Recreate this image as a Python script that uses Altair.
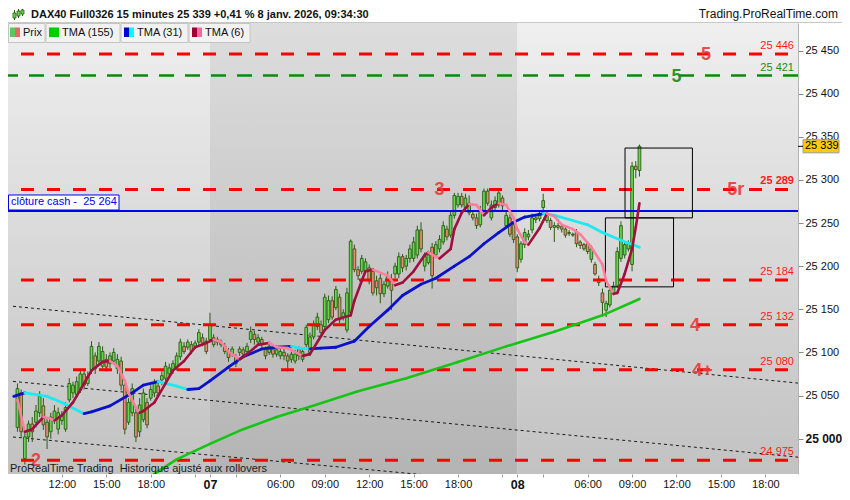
import altair as alt
import pandas as pd

# ---------------------------------------------------------------- layout
W, H = 790, 451
PX_PER_BAR = 3.75
X_MIN = -1.2
X_DOMAIN = [X_MIN, X_MIN + W / PX_PER_BAR]
Y_DOMAIN = [24959, 25482]

# ---------------------------------------------------------------- data
# 15-minute bars, index 0 = 6 janv. 09:00 (sessions 01:15 - 22:00)
opens = [25013, 25053, 24977, 25002, 25017, 25019, 25030, 25038, 25019, 25008,
         25021, 25011, 25021, 25011, 25045, 25053, 25051, 25056, 25075, 25064,
         25079, 25096, 25090, 25084, 25092, 25087, 25090, 25081, 25090, 25062,
         25019, 25030, 25030, 25008, 25022, 25042, 25047, 25053, 25061, 25068,
         25070, 25075, 25079, 25083, 25095, 25107, 25106, 25109, 25107, 25112,
         25117, 25113, 25115, 25117, 25112, 25109, 25107, 25101, 25098, 25095,
         25100, 25103, 25101, 25115, 25121, 25112, 25115, 25104, 25100, 25104,
         25098, 25096, 25100, 25096, 25092, 25090, 25104, 25092, 25109, 25100,
         25118, 25130, 25132, 25130, 25138, 25160, 25152, 25164, 25141, 25126,
         25146, 25220, 25196, 25194, 25194, 25198, 25194, 25183, 25186, 25168,
         25177, 25183, 25191, 25191, 25211, 25200, 25209, 25209, 25213, 25242,
         25200, 25204, 25222, 25213, 25220, 25228, 25243, 25236, 25259, 25271,
         25281, 25268, 25262, 25260, 25256, 25248, 25264, 25287, 25256, 25268,
         25271, 25279, 25247, 25256, 25248, 25234, 25208, 25225, 25234, 25242,
         25254, 25255, 25268, 25253, 25253, 25245, 25247, 25246, 25243, 25238,
         25237, 25239, 25228, 25225, 25226, 25208, 25202, 25185, 25169, 25149,
         25155, 25168, 25177, 25209, 25213, 25220, 25202, 25316, 25311]
highs = [25064, 25057, 25008, 25021, 25025, 25039, 25055, 25047, 25025, 25030,
         25039, 25036, 25032, 25042, 25070, 25066, 25072, 25081, 25081, 25078,
         25113, 25100, 25112, 25107, 25098, 25100, 25105, 25098, 25095, 25066,
         25047, 25064, 25036, 25047, 25058, 25047, 25062, 25069, 25066, 25078,
         25089, 25087, 25091, 25100, 25116, 25112, 25115, 25113, 25114, 25127,
         25122, 25117, 25146, 25121, 25118, 25115, 25111, 25105, 25107, 25098,
         25107, 25106, 25111, 25130, 25125, 25121, 25118, 25107, 25111, 25107,
         25106, 25105, 25104, 25099, 25101, 25103, 25107, 25106, 25132, 25123,
         25137, 25146, 25137, 25168, 25166, 25165, 25177, 25168, 25150, 25175,
         25231, 25225, 25200, 25213, 25209, 25202, 25198, 25189, 25191, 25183,
         25194, 25191, 25204, 25216, 25214, 25213, 25225, 25234, 25247, 25251,
         25216, 25218, 25227, 25229, 25236, 25252, 25247, 25263, 25285, 25285,
         25285, 25284, 25282, 25264, 25261, 25270, 25290, 25290, 25276, 25281,
         25288, 25282, 25264, 25260, 25253, 25237, 25229, 25244, 25242, 25261,
         25260, 25264, 25284, 25263, 25256, 25251, 25250, 25248, 25246, 25242,
         25239, 25243, 25230, 25227, 25229, 25224, 25205, 25189, 25174, 25160,
         25177, 25182, 25222, 25252, 25228, 25230, 25321, 25322, 25341]
lows = [25008, 25002, 24970, 24996, 24996, 25013, 25025, 25010, 24988, 25000,
        25017, 25005, 25016, 25008, 25042, 25047, 25047, 25053, 25057, 25061,
        25075, 25075, 25084, 25081, 25078, 25082, 25087, 25075, 25056, 25005,
        25016, 25026, 24996, 25002, 25019, 25012, 25044, 25048, 25049, 25062,
        25066, 25072, 25075, 25079, 25091, 25098, 25103, 25098, 25104, 25108,
        25107, 25098, 25112, 25106, 25108, 25106, 25098, 25089, 25095, 25083,
        25096, 25094, 25097, 25111, 25109, 25108, 25106, 25092, 25097, 25094,
        25095, 25092, 25091, 25078, 25088, 25087, 25091, 25089, 25106, 25096,
        25115, 25126, 25118, 25126, 25134, 25138, 25149, 25134, 25137, 25123,
        25143, 25193, 25184, 25191, 25191, 25179, 25166, 25166, 25157, 25164,
        25174, 25149, 25186, 25186, 25193, 25195, 25204, 25205, 25209, 25216,
        25194, 25202, 25174, 25209, 25216, 25225, 25230, 25233, 25255, 25268,
        25268, 25264, 25259, 25253, 25243, 25245, 25261, 25270, 25253, 25264,
        25268, 25265, 25243, 25234, 25227, 25193, 25204, 25221, 25230, 25238,
        25250, 25252, 25265, 25250, 25242, 25228, 25242, 25239, 25233, 25235,
        25234, 25222, 25220, 25218, 25214, 25204, 25189, 25177, 25143, 25141,
        25152, 25166, 25175, 25205, 25209, 25217, 25194, 25302, 25304]
closes = [25058, 25008, 25002, 25017, 25008, 25032, 25049, 25016, 25002, 25025,
          25032, 25030, 25027, 25036, 25064, 25062, 25066, 25075, 25062, 25072,
          25107, 25081, 25107, 25101, 25083, 25096, 25100, 25092, 25062, 25011,
          25042, 25058, 25002, 25039, 25053, 25016, 25057, 25064, 25053, 25073,
          25084, 25082, 25087, 25096, 25112, 25101, 25112, 25101, 25111, 25123,
          25111, 25101, 25132, 25109, 25115, 25112, 25101, 25094, 25104, 25087,
          25104, 25098, 25107, 25124, 25115, 25117, 25109, 25096, 25107, 25098,
          25103, 25101, 25096, 25090, 25098, 25098, 25096, 25101, 25129, 25118,
          25132, 25141, 25123, 25164, 25160, 25141, 25173, 25138, 25146, 25169,
          25229, 25196, 25189, 25209, 25205, 25183, 25169, 25175, 25168, 25179,
          25189, 25172, 25200, 25211, 25198, 25209, 25220, 25228, 25242, 25220,
          25211, 25213, 25189, 25225, 25231, 25247, 25234, 25259, 25282, 25281,
          25271, 25279, 25273, 25256, 25247, 25265, 25287, 25273, 25271, 25276,
          25285, 25270, 25259, 25237, 25231, 25198, 25226, 25239, 25237, 25256,
          25256, 25261, 25276, 25260, 25245, 25247, 25245, 25243, 25236, 25239,
          25236, 25226, 25224, 25220, 25217, 25220, 25191, 25181, 25158, 25157,
          25172, 25177, 25217, 25247, 25225, 25227, 25316, 25312, 25339]

tma6_i = [0, 2, 4, 7, 9, 10, 12, 15, 18, 20, 23, 25, 27, 29, 30, 32, 33, 34, 37, 40,
          42, 45, 48, 51, 53, 55, 57, 60, 62, 65, 68, 70, 73, 77, 79, 83, 86, 90, 91, 93,
          94, 96, 100, 102, 104, 107, 110, 111, 113, 114, 117, 118, 120, 122, 124, 126,
          128, 130, 132, 134, 135, 137, 138, 141, 143, 145, 147, 150, 152, 155, 158, 159,
          161, 162, 164, 166, 167, 168]
tma6_v = [25045, 25008, 25011, 25025, 25023, 25021, 25027, 25042, 25064, 25079,
          25089, 25090, 25084, 25067, 25053, 25036, 25030, 25032, 25042, 25064,
          25079, 25090, 25106, 25111, 25115, 25112, 25101, 25092, 25098, 25109,
          25111, 25106, 25105, 25096, 25098, 25126, 25138, 25143, 25160, 25183,
          25194, 25196, 25189, 25178, 25181, 25194, 25213, 25216, 25211, 25209,
          25220, 25243, 25262, 25272, 25271, 25259, 25268, 25273, 25271, 25256,
          25243, 25228, 25225, 25244, 25261, 25258, 25248, 25243, 25237, 25222,
          25202, 25183, 25168, 25169, 25191, 25220, 25245, 25273]

tma31_i = [-1, 2, 8, 12, 18, 20, 25, 31, 34, 38, 43, 46, 49, 52, 57, 61, 66, 70, 74, 76,
           79, 82, 86, 91, 95, 100, 104, 109, 113, 118, 122, 126, 130, 134, 137, 141,
           142, 145, 150, 154, 158, 163, 168]
tma31_v = [25049, 25053, 25049, 25042, 25029, 25031, 25038, 25053, 25062, 25066,
           25061, 25057, 25058, 25067, 25083, 25095, 25104, 25106, 25107, 25105,
           25104, 25105, 25106, 25113, 25130, 25149, 25166, 25179, 25186, 25200,
           25211, 25226, 25239, 25251, 25257, 25260, 25261, 25259, 25253, 25248,
           25239, 25230, 25222]

tma155_i = [36, 38, 43, 52, 61, 70, 79, 92, 105, 119, 132, 145, 158, 168]
tma155_v = [24956, 24962, 24976, 24994, 25011, 25025, 25037, 25055, 25070, 25089,
            25107, 25124, 25143, 25162]

red_levels = [25446, 25289, 25184, 25132, 25080, 24975]
red_level_bold = [0, 1, 0, 0, 0, 0]
green_levels = [25421]
cash_level = 25264

big_text = ["5", "5", "5r", "3", "4", "4+", "2"]
big_x = [186, 178, 194, 114, 183, 185, 5]
big_y = [25446, 25421, 25289, 25289, 25132, 25080, 24975]
big_col = ["#e63c3c", "#1a8a1a", "#e63c3c", "#e63c3c", "#e63c3c", "#e63c3c", "#e63c3c"]

trend_x1 = [-1.2, -1.2, -1.2]
trend_y1 = [25153.5, 25066.4, 25001.9]
trend_x2 = [211.6, 211.6, 211.6]
trend_y2 = [25064.1, 24978.2, 24918.0]

box_x1 = [164.1, 158.8]
box_x2 = [182.3, 177.2]
box_top = [25337, 25256]
box_bot = [25256, 25176]

day_start = [-3, 52, 135]
day_end = [52, 135, 215]
day_dark = [0, 1, 0]

tick_pos = [12, 24, 36, 48, 52, 59, 71, 83, 95, 107, 119, 131, 135, 142, 154, 166, 178, 190, 202]
tick_lab = ["12:00", "15:00", "18:00", "", "07", "", "06:00", "09:00", "12:00", "15:00",
            "18:00", "", "08", "", "06:00", "09:00", "12:00", "15:00", "18:00"]
day_ticks = [52, 135]
price_ticks = [25000, 25050, 25100, 25150, 25200, 25250, 25300, 25350, 25400, 25450]

legend_names = ["Prix", "TMA (155)", "TMA (31)", "TMA (6)"]


# ---------------------------------------------------------------- helpers
def fmt(v):
    return f"{int(v):,}".replace(",", " ")


label_expr = "''"
for p, lab in reversed(list(zip(tick_pos, tick_lab))):
    label_expr = f"datum.value == {p} ? '{lab}' : {label_expr}"
bold_test = " || ".join(f"datum.value == {d}" for d in day_ticks)

x_axis = alt.Axis(values=tick_pos, labelExpr=label_expr, domain=False, grid=False,
                  tickSize=3, tickColor="#9a9a9a", labelPadding=1, labelColor="#111111",
                  labelOverlap=False, labelFlush=False, title=None,
                  labelFontSize={"condition": {"test": bold_test, "value": 12.5}, "value": 11},
                  labelFontWeight={"condition": {"test": bold_test, "value": "bold"}, "value": "normal"})
y_axis = alt.Axis(orient="right", values=price_ticks,
                  labelExpr="replace(format(datum.value, ','), ',', ' ')",
                  grid=False, domainColor="#b4b4b4", tickColor="#8a8a8a", tickSize=5,
                  labelPadding=2, labelColor="#111111", labelOverlap=False, title=None,
                  labelFontSize={"condition": {"test": "datum.value == 25000", "value": 12}, "value": 11},
                  labelFontWeight={"condition": {"test": "datum.value == 25000", "value": "bold"}, "value": "normal"})

xs = alt.Scale(domain=X_DOMAIN, nice=False, zero=False)
ys = alt.Scale(domain=Y_DOMAIN, nice=False, zero=False)


def X(f):
    return alt.X(f, type="quantitative", scale=xs, axis=x_axis, title=None)


def Y(f):
    return alt.Y(f, type="quantitative", scale=ys, axis=y_axis, title=None)


ONE = pd.DataFrame({"d": [0]})


def px_rect(x0, x1, y0, y1, **mark):
    return alt.Chart(ONE).mark_rect(**mark).encode(
        x=alt.value(x0), x2=alt.value(x1), y=alt.value(y0), y2=alt.value(y1))


def px_text(x, y, text, **mark):
    return alt.Chart(pd.DataFrame({"t": [text]})).mark_text(**mark).encode(
        x=alt.value(x), y=alt.value(y), text="t:N")


DARK = "#2b5a12"

# ---------------------------------------------------------------- frames
n = len(closes)
cdf = pd.DataFrame({"i": list(range(n)), "o": opens, "h": highs, "l": lows, "c": closes})
cdf["fill"] = ["#63d94f" if c >= o else "#ef8a74" for o, c in zip(opens, closes)]


def segments(idx, vals, up, down):
    rows = []
    for k in range(len(idx) - 1):
        rows.append({"x": idx[k], "y": vals[k], "x2": idx[k + 1], "y2": vals[k + 1],
                     "col": up if vals[k + 1] >= vals[k] else down})
    return pd.DataFrame(rows)


seg6 = segments(tma6_i, tma6_v, "#a0103f", "#ff7d9e")
seg31 = segments(tma31_i, tma31_v, "#0b12c9", "#1ee8f0")
seg155 = segments(tma155_i, tma155_v, "#16c416", "#16c416")

bg = pd.DataFrame({"s": day_start, "e": day_end, "dark": day_dark})
trend = pd.DataFrame({"x1": trend_x1, "y1": trend_y1, "x2": trend_x2, "y2": trend_y2})
boxes = pd.DataFrame({"x1": box_x1, "x2": box_x2, "t": box_top, "b": box_bot})
red_df = pd.DataFrame({"p": red_levels, "t": [fmt(v) for v in red_levels], "bold": red_level_bold})
green_df = pd.DataFrame({"p": green_levels, "t": [fmt(v) for v in green_levels]})
cash_df = pd.DataFrame({"p": [cash_level], "t": ["clôture cash -\u00a0 " + fmt(cash_level)]})
big_df = pd.DataFrame({"x": big_x, "y": big_y, "t": big_text, "col": big_col})
cur_df = pd.DataFrame({"p": [closes[-1]], "t": [fmt(closes[-1])]})

# ---------------------------------------------------------------- layers
grad_light = alt.LinearGradient(gradient="linear", x1=0, x2=0, y1=0, y2=1, stops=[
    alt.GradientStop(color="#efefef", offset=0), alt.GradientStop(color="#c2c2c2", offset=1)])
grad_dark = alt.LinearGradient(gradient="linear", x1=0, x2=0, y1=0, y2=1, stops=[
    alt.GradientStop(color="#dddddd", offset=0), alt.GradientStop(color="#b4b4b4", offset=1)])

bg_light = alt.Chart(bg).transform_filter("datum.dark == 0").mark_rect(
    fill=grad_light, clip=True).encode(x=X("s"), x2="e:Q", y=alt.value(0), y2=alt.value(H))
bg_dark = alt.Chart(bg).transform_filter("datum.dark == 1").mark_rect(
    fill=grad_dark, clip=True).encode(x=X("s"), x2="e:Q", y=alt.value(0), y2=alt.value(H))

trend_l = alt.Chart(trend).mark_rule(color="#1a1a1a", strokeWidth=1, strokeDash=[3, 3],
                                     clip=True).encode(
    x=X("x1"), y=Y("y1"), x2="x2:Q", y2="y2:Q")

wicks = alt.Chart(cdf).mark_rule(color=DARK, strokeWidth=1).encode(
    x=X("i"), y=Y("l"), y2="h:Q")
bodies = alt.Chart(cdf).mark_bar(width=2.7, stroke=DARK, strokeWidth=0.9).encode(
    x=X("i"), y=Y("o"), y2="c:Q", fill=alt.Fill("fill:N", scale=None))

red_rules = alt.Chart(red_df).mark_rule(color="#ff0000", strokeWidth=3, strokeDash=[13, 13],
                                        strokeDashOffset=16).encode(y=Y("p"))
green_rules = alt.Chart(green_df).mark_rule(color="#0a8a0a", strokeWidth=2.5,
                                            strokeDash=[15, 11]).encode(y=Y("p"))
cash_rule = alt.Chart(cash_df).mark_rule(color="#0000f0", strokeWidth=2).encode(y=Y("p"))

box_l = alt.Chart(boxes).mark_rect(fillOpacity=0, stroke="#000000", strokeWidth=1).encode(
    x=X("x1"), x2="x2:Q", y=Y("t"), y2="b:Q")


def tma_layer(df, width):
    return alt.Chart(df).mark_rule(strokeWidth=width, strokeCap="round", clip=True).encode(
        x=X("x"), y=Y("y"), x2="x2:Q", y2="y2:Q", color=alt.Color("col:N", scale=None))


l155 = tma_layer(seg155, 2.6)
l31 = tma_layer(seg31, 2.8)
l6 = tma_layer(seg6, 2.6)

red_lab = alt.Chart(red_df).transform_filter("datum.bold == 0").mark_text(
    align="right", baseline="alphabetic", dy=-5, fontSize=11, color="#ff1a1a").encode(
    x=alt.value(W - 4), y=Y("p"), text="t:N")
red_lab_b = alt.Chart(red_df).transform_filter("datum.bold == 1").mark_text(
    align="right", baseline="alphabetic", dy=-5, fontSize=11, fontWeight="bold",
    color="#ff1a1a").encode(x=alt.value(W - 4), y=Y("p"), text="t:N")
green_lab = alt.Chart(green_df).mark_text(
    align="right", baseline="alphabetic", dy=-5, fontSize=11, color="#1a8a1a").encode(
    x=alt.value(W - 4), y=Y("p"), text="t:N")

big_l = alt.Chart(big_df).mark_text(fontSize=18, fontWeight="bold", baseline="middle",
                                    align="center", dy=1, opacity=0.9).encode(
    x=X("x"), y=Y("y"), text="t:N", color=alt.Color("col:N", scale=None))

cash_box = alt.Chart(cash_df).mark_rect(fill="#ffffff", stroke="#0000f0", strokeWidth=1,
                                        yOffset=-1, y2Offset=-16).encode(
    x=alt.value(0.5), x2=alt.value(111), y=Y("p"), y2="p:Q")
cash_txt = alt.Chart(cash_df).mark_text(align="left", baseline="middle", dy=-8.5,
                                        fontSize=11, color="#0000f0").encode(
    x=alt.value(3), y=Y("p"), text="t:N")

cur_box = alt.Chart(cur_df).mark_rect(fill="#ffcc00", stroke="#9a9a9a", strokeWidth=1,
                                      yOffset=6.5, y2Offset=-6.5).encode(
    x=alt.value(W + 5), x2=alt.value(W + 41), y=Y("p"), y2="p:Q")
cur_tick = alt.Chart(cur_df).mark_rule(color="#000000", strokeWidth=1).encode(
    x=alt.value(W), x2=alt.value(W + 5), y=Y("p"))
cur_txt = alt.Chart(cur_df).mark_text(align="left", baseline="middle", fontSize=11,
                                      color="#000000").encode(
    x=alt.value(W + 7), y=Y("p"), text="t:N")

bottom_txt = px_text(2, H - 2, "ProRealTime Trading\u00a0 Historique ajusté aux rollovers",
                     align="left", baseline="alphabetic", fontSize=11, color="#1a1a1a")

# header
header_txt = px_text(23, -5, f"DAX40 Full0326 15 minutes {fmt(closes[-1])} +0,41 % 8 janv. 2026, 09:34:30",
                     align="left", baseline="alphabetic", fontSize=11, fontWeight="bold",
                     color="#111111")
site_txt = px_text(W + 40, -5, "Trading.ProRealTime.com", align="right",
                   baseline="alphabetic", fontSize=12, color="#111111")
divider = alt.Chart(ONE).mark_rule(color="#c8c8c8", strokeWidth=1).encode(
    x=alt.value(0), x2=alt.value(W + 44), y=alt.value(-0.5))
icon = [
    alt.Chart(ONE).mark_rule(color=DARK, strokeWidth=1).encode(
        x=alt.value(6.5), y=alt.value(-13), y2=alt.value(-3)),
    px_rect(5, 8, -10, -5, fill="#63d94f", stroke=DARK, strokeWidth=0.8),
    alt.Chart(ONE).mark_rule(color=DARK, strokeWidth=1).encode(
        x=alt.value(10.5), y=alt.value(-14), y2=alt.value(-5)),
    px_rect(9, 12, -12, -7, fill="#63d94f", stroke=DARK, strokeWidth=0.8),
    alt.Chart(ONE).mark_rule(color=DARK, strokeWidth=1).encode(
        x=alt.value(14.5), y=alt.value(-14), y2=alt.value(-7)),
    px_rect(13, 16, -13, -9, fill="#63d94f", stroke=DARK, strokeWidth=0.8),
]

# legend row
leg_box_x0 = [0.5, 38, 113, 181]
leg_box_x1 = [37, 112, 180, 242]
leg_text_x = [15, 54, 129, 197]
leg_sw = [(2, 7, "#5cc85c"), (7, 12, "#e06a6a"), (41, 51, "#00cc00"),
          (116, 121, "#0000cc"), (121, 126, "#00ffff"), (184, 189, "#990033"),
          (189, 194, "#ff6699")]
legend = []
for a, b in zip(leg_box_x0, leg_box_x1):
    legend.append(px_rect(a, b, 0.5, 19.5, fill="#f2f2f2", stroke="#c4c4c4", strokeWidth=1))
for a, b, col in leg_sw:
    legend.append(px_rect(a, b, 4.5, 14, fill=col))
for xpos, name in zip(leg_text_x, legend_names):
    legend.append(px_text(xpos, 10, name, align="left", baseline="middle", fontSize=11,
                          color="#111111"))

layers = [bg_light, bg_dark, trend_l, wicks, bodies, red_rules, green_rules, cash_rule,
          box_l, l155, l31, l6, red_lab, red_lab_b, green_lab, big_l, cash_box, cash_txt,
          cur_box, cur_tick, cur_txt, bottom_txt, divider, header_txt, site_txt] + icon + legend

chart = alt.layer(*layers).properties(
    width=W, height=H,
    padding={"left": 0, "top": 15, "right": 44, "bottom": 18},
    autosize=alt.AutoSizeParams(type="none"),
).configure(font="Liberation Sans", background="#ffffff").configure_view(stroke="transparent")

chart.save("out.html", embed_options={"renderer": "svg", "actions": False})
